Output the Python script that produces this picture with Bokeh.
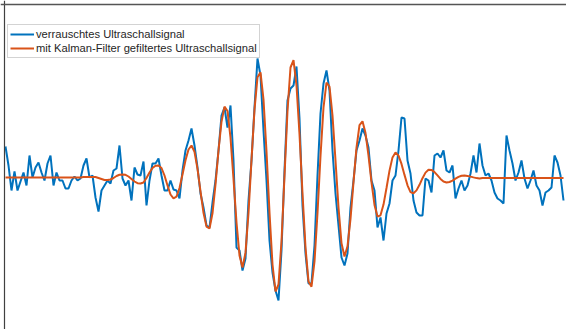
from bokeh.plotting import figure
from bokeh.models import Range1d, Span, Legend, LegendItem
from bokeh.embed import file_html
from bokeh.resources import INLINE

# noisy ultrasonic signal (amplitude, arbitrary units), one value per sample
noisy = [
    31, 12, -13, 6, -13, -4, 5, -8, 22, 0,
    10, 15, 5, -3, 14, 22, -8, 5, -3, -3,
    -11, -11, -3, 1, -3, -1, 12, 19, 0, 2,
    -20, -34, -13, -8, -3, -6, 7, 9, 32, -1,
    -8, -3, -23, 10, 3, 2, 16, -28, -3, 14,
    14, 19, 2, -13, -13, -3, -12, -13, -21, 7,
    27, 37, 49, 32, 10, -16, -30, -48, -50, -25,
    -3, 27, 62, 70, 50, 72, 17, -70, -73, -93,
    -81, -23, 17, 70, 119, 102, 47, -3, -63, -95,
    -113, -123, -73, 7, 77, 89, 92, 111, 59, -28,
    -76, -106, -106, -68, 2, 64, 94, 107, 87, 27,
    -16, -48, -80, -88, -76, -30, -3, 27, 37, 49,
    42, 30, -3, -13, -50, -40, -63, -36, -26, -3,
    2, 27, 60, 59, 17, 4, -23, -35, -38, -38,
    -1, -3, -15, 22, 24, 20, 27, 7, 5, 12,
    -21, -11, -3, -13, -8, 4, 22, 5, 34, 12,
    2, 4, -3, -15, -21, -23, -26, 42, 27, 14,
    -3, 5, 17, -1, -11, -3, 7, -8, -13, -28,
    -15, -13, -10, 22, 15, 2, -23,
]

# Kalman-filtered signal
filtered = [
    0, 0, 0, 0, 0, 0, 0, 0, 0, 0,
    0, 0, 0, 0, 0, 0, 0, 0, 0, 0,
    0, 0, 0, 0, 0, 0, 0.5, 0.5, 0.5, 0.5,
    0.5, -0.5, -1.5, -2.5, -2.5, -2, -0.5, 1.5, 2.7, 3,
    2.7, 1, -1.5, -4, -5.7, -6, -5, -0.5, 5, 9.5,
    11.7, 12, 9.5, 2, -8, -17, -20.8, -19.2, -10.5, 3,
    17.3, 28, 32, 25.7, 8.7, -13.9, -35.3, -49.1, -51, -35.8,
    -7, 27, 55.8, 70.9, 66.5, 39.8, -1.5, -45, -77.9, -90,
    -75.2, -35.4, 17.6, 67.8, 100.3, 105.1, 78, 26, -35, -87,
    -114, -107, -64, 1.5, 66.8, 110, 117.3, 92, 43.3, -16,
    -70, -104, -109.2, -84, -35.5, 21.5, 70, 95, 91, 62,
    17, -30, -65.8, -79, -68.8, -41.3, -4.7, 29.9, 52.4, 56.2,
    44.4, 21.8, -4.8, -27.4, -39.1, -37.8, -27.1, -10.5, 6.9, 20.1,
    25, 21.9, 13.6, 2.6, -7.8, -14.6, -15.8, -12.9, -7.3, -0.7,
    4.9, 7.8, 7.6, 5.4, 2.1, -1.4, -4, -5, -4.5, -3.1,
    -1.2, 0.6, 1.8, 2, 1.6, 0.9, 0.1, -0.6, -1, -0.5,
    -0.5, -0.5, -0.5, -0.5, -0.5, -0.5, -0.5, -0.5, -0.5, -0.5,
    -0.5, -0.5, -0.5, -0.5, -0.5, -0.5, -0.5, -0.5, -0.5, -0.5,
    -0.5, -0.5, -0.5, -0.5, -0.5, -0.5, -0.5,
]

t = list(range(len(noisy)))

labels = ["verrauschtes Ultraschallsignal",
          "mit Kalman-Filter gefiltertes Ultraschallsignal"]

p = figure(width=566, height=329, output_backend="svg", toolbar_location=None,
           x_range=Range1d(-5 / 3, 187), y_range=Range1d(-152, 177),
           min_border=0)
p.axis.visible = False
p.grid.visible = False
p.outline_line_color = None
p.background_fill_color = "white"
p.border_fill_color = "white"

r1 = p.line(t, noisy, line_color="#0072BD", line_width=2)
r2 = p.line(t, filtered, line_color="#D95319", line_width=2)

p.add_layout(Span(location=-1 / 3, dimension="height", line_color="#404040", line_width=1.2))
p.add_layout(Span(location=173, dimension="width", line_color="#555555", line_width=1.6))

legend = Legend(items=[LegendItem(label=labels[0], renderers=[r1]),
                       LegendItem(label=labels[1], renderers=[r2])],
                location=(7, 271))
legend.label_text_font = "Liberation Sans"
legend.label_text_font_size = "11.2px"
legend.label_text_color = "#262626"
legend.label_height = 14
legend.glyph_height = 14
legend.glyph_width = 24
legend.label_standoff = 2
legend.spacing = 0
legend.padding = 2
legend.margin = 0
legend.border_line_color = "#a8a8a8"
legend.border_line_width = 1
legend.background_fill_color = "white"
legend.background_fill_alpha = 1.0
p.add_layout(legend)

open("out.html", "w").write(file_html(p, INLINE))
